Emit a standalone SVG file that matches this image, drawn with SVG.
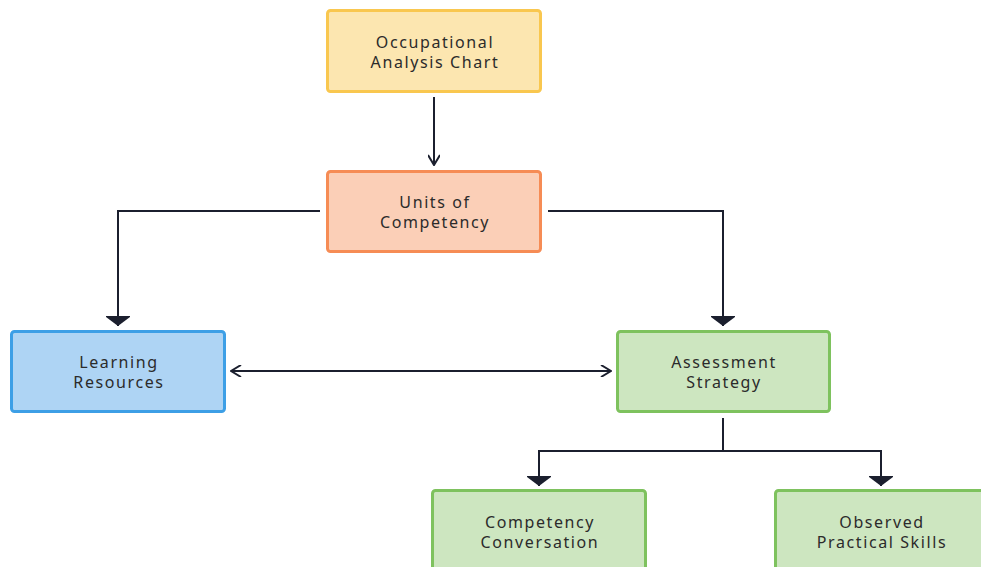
<svg xmlns="http://www.w3.org/2000/svg" width="981" height="567" viewBox="0 0 981 567">
<style>
  .box { stroke-width: 3; }
  .yellow { fill: #FCE6B0; stroke: #F9C74F; }
  .orange { fill: #FBCFB7; stroke: #F68C55; }
  .blue { fill: #AED4F4; stroke: #3D9FE6; }
  .green { fill: #CDE6C0; stroke: #7EC25E; }
  .lbl { font-family: "Noto Sans", "Open Sans", sans-serif; font-size: 16px; fill: #2b2b2b; text-anchor: middle; dominant-baseline: central; letter-spacing: 1.6px; }
  .conn { fill: none; stroke: #1B1F2E; stroke-width: 2; }
</style>
<defs>
  <marker id="open" viewBox="0 0 12 12" refX="11" refY="6" markerWidth="12" markerHeight="12" markerUnits="userSpaceOnUse" orient="auto-start-reverse">
    <path d="M1,0 L11,6 L1,12" fill="none" stroke="#1B1F2E" stroke-width="2"/>
  </marker>
  <marker id="block" viewBox="0 0 10 24" refX="10" refY="12" markerWidth="10" markerHeight="24" markerUnits="userSpaceOnUse" orient="auto">
    <path d="M0,0 L1,0 L10,12 L1,24 L0,24 Z" fill="#1B1F2E"/>
  </marker>
</defs>
<rect width="981" height="567" fill="#ffffff"/>
<g id="connectors">
  <path class="conn" d="M434,97 V165" marker-end="url(#open)"/>
  <path class="conn" d="M320,211 H118 V326" marker-end="url(#block)"/>
  <path class="conn" d="M548,211 H723 V326" marker-end="url(#block)"/>
  <path class="conn" d="M231,371 H611" marker-start="url(#open)" marker-end="url(#open)"/>
  <path class="conn" d="M723,418 V451 H539 V486" marker-end="url(#block)"/>
  <path class="conn" d="M723,451 H881 V486" marker-end="url(#block)"/>
</g>
<g id="occupational">
  <rect class="box yellow" x="327.5" y="10.5" width="213" height="81" rx="3"/>
  <text class="lbl" x="435" y="42">Occupational</text>
  <text class="lbl" x="435" y="62">Analysis Chart</text>
</g>
<g id="units">
  <rect class="box orange" x="327.5" y="171.5" width="213" height="80" rx="3"/>
  <text class="lbl" x="435" y="202">Units of</text>
  <text class="lbl" x="435" y="222">Competency</text>
</g>
<g id="learning">
  <rect class="box blue" x="11.5" y="331.5" width="213" height="80" rx="3"/>
  <text class="lbl" x="119" y="362">Learning</text>
  <text class="lbl" x="119" y="382">Resources</text>
</g>
<g id="assessment">
  <rect class="box green" x="617.5" y="331.5" width="212" height="80" rx="3"/>
  <text class="lbl" x="724" y="362">Assessment</text>
  <text class="lbl" x="724" y="382">Strategy</text>
</g>
<g id="conversation">
  <rect class="box green" x="432.5" y="490.5" width="213" height="81" rx="3"/>
  <text class="lbl" x="540" y="522">Competency</text>
  <text class="lbl" x="540" y="542">Conversation</text>
</g>
<g id="observed">
  <rect class="box green" x="775.5" y="490.5" width="213" height="81" rx="3"/>
  <text class="lbl" x="882" y="522">Observed</text>
  <text class="lbl" x="882" y="542">Practical Skills</text>
</g>
</svg>
